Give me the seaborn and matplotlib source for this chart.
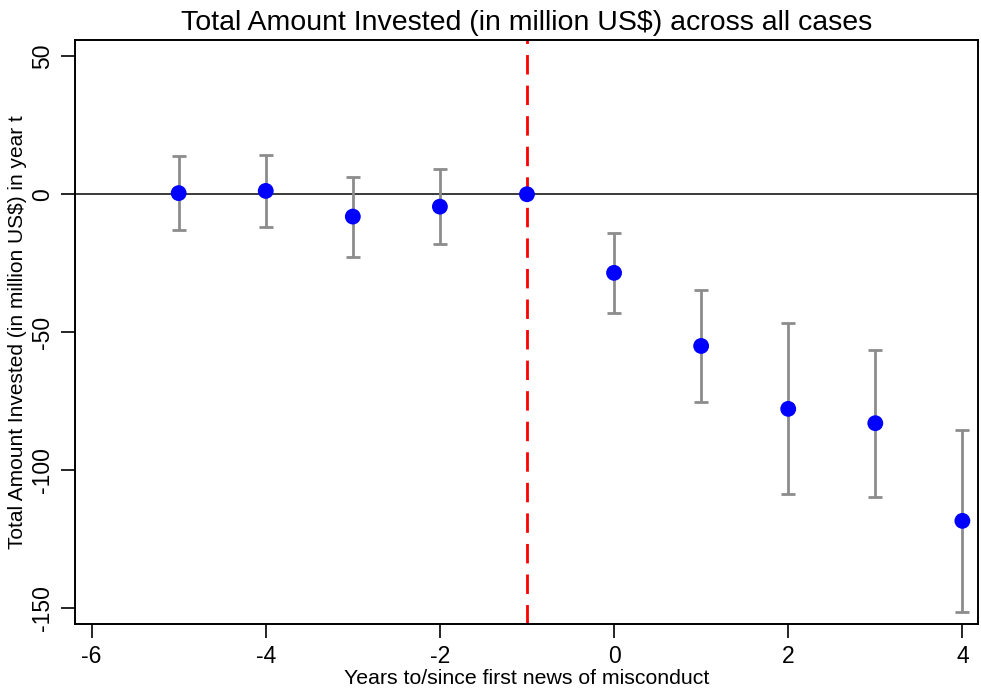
import matplotlib
matplotlib.use("Agg")
import matplotlib.pyplot as plt
import seaborn as sns
import pandas as pd

# Event-study coefficients with 95% confidence bounds
years = [-5, -4, -3, -2, -1, 0, 1, 2, 3, 4]
coef = [0.4, 1.2, -8.1, -4.5, 0.0, -28.5, -55.0, -77.8, -83.0, -118.4]
ci_low = [-12.8, -11.9, -22.8, -18.2, 0.0, -42.9, -75.3, -108.7, -109.9, -151.4]
ci_high = [13.7, 14.4, 6.4, 9.1, 0.0, -13.9, -34.8, -46.8, -56.4, -85.6]

x_ticks = [-6, -4, -2, 0, 2, 4]
y_ticks = [50, 0, -50, -100, -150]

df = pd.DataFrame({"year": years, "coef": coef, "lo": ci_low, "hi": ci_high})

sns.set_theme(style="white")
plt.rcParams["font.family"] = ["Liberation Sans", "DejaVu Sans"]
plt.rcParams.update({"text.color": "black", "axes.labelcolor": "black",
                     "xtick.color": "black", "ytick.color": "black"})

fig = plt.figure(figsize=(9.81, 6.96), dpi=100)
ax = fig.add_axes([0.0765, 0.1034, 0.9205, 0.8391])

# confidence intervals (skip the reference year, which has none)
ci = df[df["hi"] != df["lo"]]
ax.errorbar(ci["year"], ci["coef"],
            yerr=[ci["coef"] - ci["lo"], ci["hi"] - ci["coef"]],
            fmt="none", ecolor="#8c8c8c", elinewidth=2.0, capsize=5, capthick=2.0, zorder=2)

ax.axhline(0, color="#3a3a3a", lw=1.4, zorder=1)
ax.axvline(-1, color="#ff0000", lw=2.0, ls=(0, (7, 4)), zorder=1)

sns.scatterplot(data=df, x="year", y="coef", ax=ax, color="#0000ff", s=130,
                edgecolor="none", zorder=3, legend=False)

ax.set_xlim(-6.19, 4.18)
ax.set_ylim(-155.8, 55.9)
ax.set_xticks(x_ticks)
ax.set_yticks(y_ticks)
ax.set_xticklabels([str(t) for t in x_ticks], fontsize=16.5)
ax.set_yticklabels([str(t) for t in y_ticks], fontsize=16.5, rotation=90, va="center")
ax.tick_params(axis="both", direction="out", length=10, width=1.2, color="black",
               bottom=True, left=True, pad=5)

for sp in ax.spines.values():
    sp.set_color("black")
    sp.set_linewidth(1.4)

ax.set_xlabel("Years to/since first news of misconduct", fontsize=15.3, labelpad=1)
ax.set_ylabel("Total Amount Invested (in million US$) in year t", fontsize=15, labelpad=3)
ax.set_title("Total Amount Invested (in million US$) across all cases", fontsize=20.5, pad=7)

fig.savefig("out.png", dpi=100)
